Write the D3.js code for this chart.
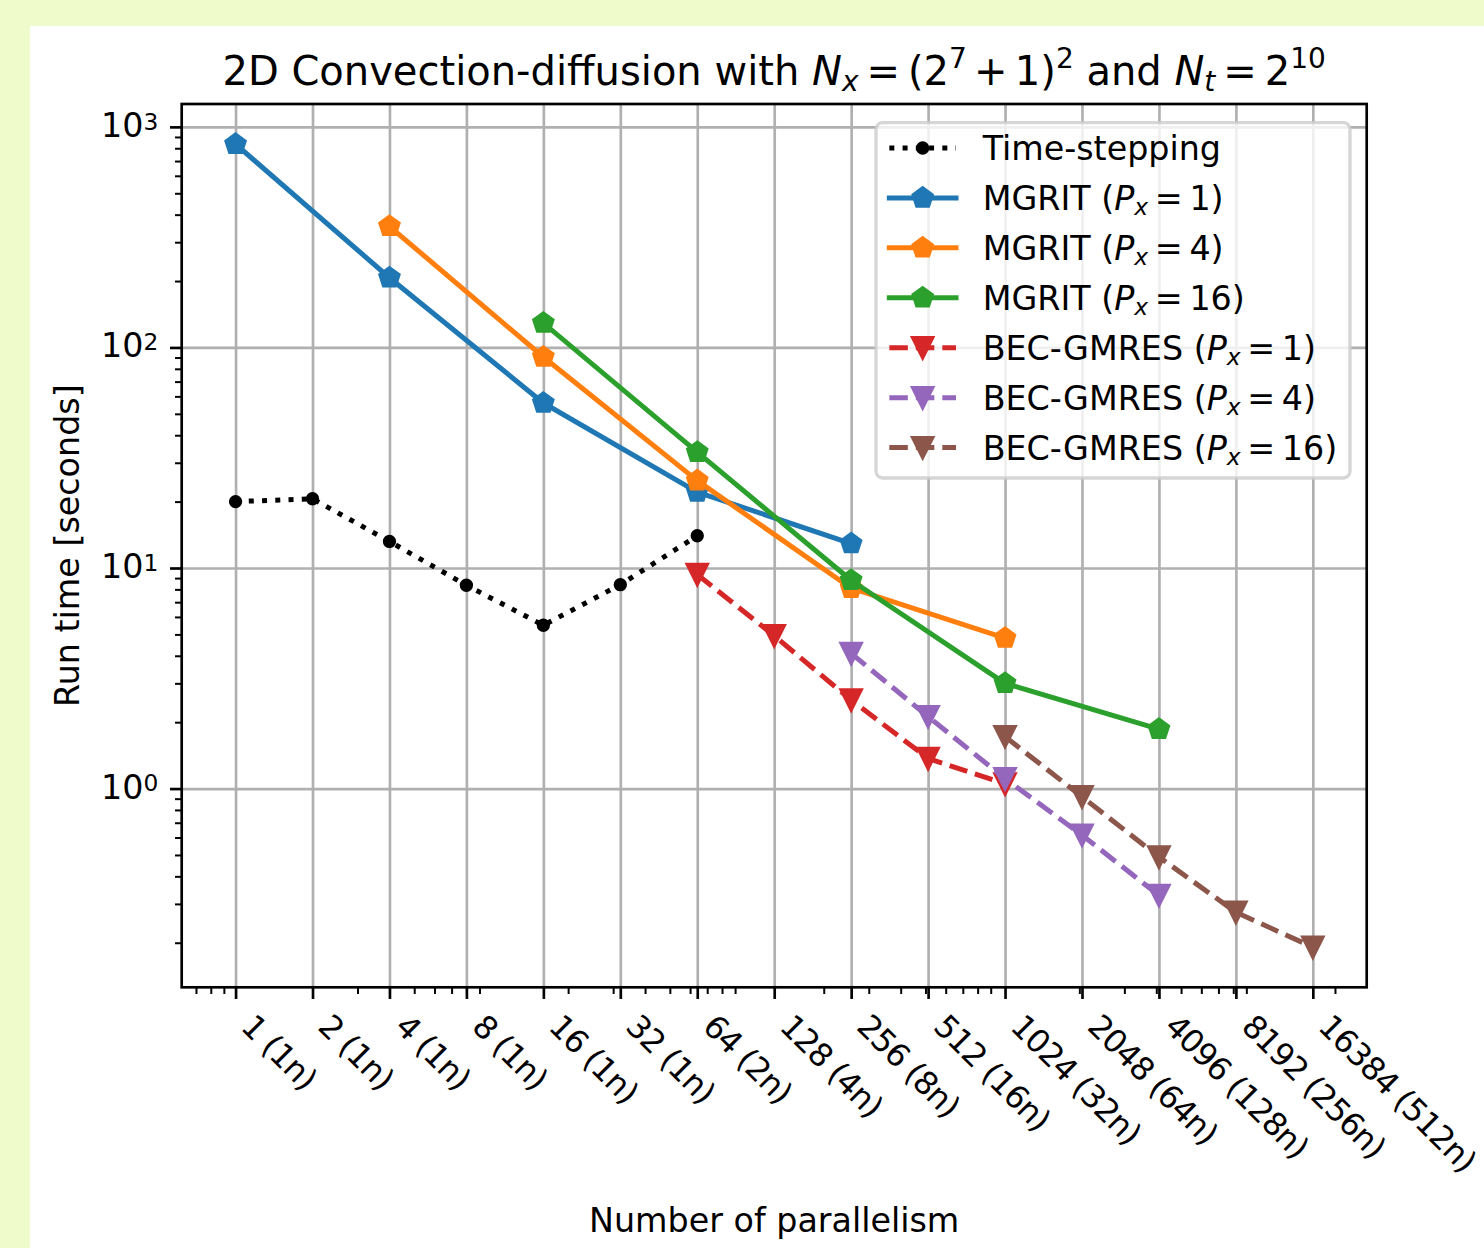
<!DOCTYPE html>
<html>
<head>
<meta charset="utf-8">
<script src="https://cdn.jsdelivr.net/npm/d3@7"></script>
<style>
  html, body { margin: 0; padding: 0; background: #f0fbcc; }
  svg { display: block; }
  svg text { font-family: "DejaVu Sans", sans-serif; white-space: pre; fill: #000; }
</style>
</head>
<body>
<svg id="chart" width="1484" height="1248"></svg>
<script>
// ---------------- data ----------------
const xTicks = [1, 2, 4, 8, 16, 32, 64, 128, 256, 512, 1024, 2048, 4096, 8192, 16384];
const xTickLabels = ["1 (1n)", "2 (1n)", "4 (1n)", "8 (1n)", "16 (1n)", "32 (1n)", "64 (2n)",
  "128 (4n)", "256 (8n)", "512 (16n)", "1024 (32n)", "2048 (64n)", "4096 (128n)",
  "8192 (256n)", "16384 (512n)"];
const yTicks = [1, 10, 100, 1000];
const yTickExponents = ["0", "1", "2", "3"];

const timeSteppingX = [1, 2, 4, 8, 16, 32, 64];
const timeSteppingY = [20.0, 20.6, 13.2, 8.35, 5.5, 8.4, 14.0];

const mgrit1X = [1, 4, 16, 64, 256];
const mgrit1Y = [835, 207, 56, 22.1, 12.9];

const mgrit4X = [4, 16, 64, 256, 1024];
const mgrit4Y = [354, 90.5, 24.9, 8.1, 4.81];

const mgrit16X = [16, 64, 256, 1024, 4096];
const mgrit16Y = [129, 33.5, 8.8, 3.0, 1.86];

const bec1X = [64, 128, 256, 512, 1024];
const bec1Y = [9.35, 4.93, 2.52, 1.37, 1.05];

const bec4X = [256, 512, 1024, 2048, 4096];
const bec4Y = [4.1, 2.12, 1.11, 0.615, 0.328];

const bec16X = [1024, 2048, 4096, 8192, 16384];
const bec16Y = [1.72, 0.918, 0.49, 0.275, 0.191];

const seriesNames = ["Time-stepping", "MGRIT", "MGRIT", "MGRIT", "BEC-GMRES", "BEC-GMRES", "BEC-GMRES"];
const seriesPx = [null, "1", "4", "16", "1", "4", "16"];

// ---------------- styles ----------------
const PT = 240 / 72;
const series = [
  { x: timeSteppingX, y: timeSteppingY, color: "#000000", dash: [1 * 1.5 * PT, 1.65 * 1.5 * PT], marker: "dot" },
  { x: mgrit1X, y: mgrit1Y, color: "#1f77b4", dash: null, marker: "pent" },
  { x: mgrit4X, y: mgrit4Y, color: "#ff7f0e", dash: null, marker: "pent" },
  { x: mgrit16X, y: mgrit16Y, color: "#2ca02c", dash: null, marker: "pent" },
  { x: bec1X, y: bec1Y, color: "#d62728", dash: [3.7 * 1.5 * PT, 1.6 * 1.5 * PT], marker: "tri" },
  { x: bec4X, y: bec4Y, color: "#9467bd", dash: [3.7 * 1.5 * PT, 1.6 * 1.5 * PT], marker: "tri" },
  { x: bec16X, y: bec16Y, color: "#8c564b", dash: [3.7 * 1.5 * PT, 1.6 * 1.5 * PT], marker: "tri" }
];

const W = 1484, H = 1248;
const M = { left: 181.7, right: 1366.7, top: 104, bottom: 987.3 };
const FS = 10 * PT;   // 33.3 px
const TFS = 12 * PT;  // 40 px

const svg = d3.select("#chart");
svg.append("rect").attr("x", 30).attr("y", 26).attr("width", W - 30).attr("height", H - 26).attr("fill", "#ffffff");

// ---------------- scales ----------------
const allX = series.flatMap(s => s.x);
const allY = series.flatMap(s => s.y);
const lx0 = Math.log2(d3.min(allX)), lx1 = Math.log2(d3.max(allX));
const mx = (lx1 - lx0) * 0.05;
const ly0 = Math.log10(d3.min(allY)), ly1 = Math.log10(d3.max(allY));
const my = (ly1 - ly0) * 0.05;

const x = d3.scaleLog().base(2).domain([2 ** (lx0 - mx), 2 ** (lx1 + mx)]).range([M.left, M.right]);
const y = d3.scaleLog().base(10).domain([10 ** (ly0 - my), 10 ** (ly1 + my)]).range([M.bottom, M.top]);

// minor ticks (base-10 subs 2..9)
const [xd0, xd1] = x.domain();
const xMinor = [];
for (let k = -2; k <= 5; k++) for (let d = 2; d <= 9; d++) {
  const v = d * 10 ** k;
  if (v >= xd0 && v <= xd1) xMinor.push(v);
}
const [yd0, yd1] = y.domain();
const yMinor = [];
for (let k = -2; k <= 4; k++) for (let d = 2; d <= 9; d++) {
  const v = d * 10 ** k;
  if (v >= yd0 && v <= yd1) yMinor.push(v);
}

// ---------------- grid ----------------
const gridX = svg.append("g").attr("transform", `translate(0,${M.bottom})`)
  .call(d3.axisBottom(x).tickValues(xTicks).tickSize(-(M.bottom - M.top)).tickFormat(""));
const gridY = svg.append("g").attr("transform", `translate(${M.left},0)`)
  .call(d3.axisLeft(y).tickValues(yTicks).tickSize(-(M.right - M.left)).tickFormat(""));
[gridX, gridY].forEach(g => {
  g.select(".domain").remove();
  g.selectAll(".tick line").attr("stroke", "#b0b0b0").attr("stroke-width", 0.8 * PT);
});

// ---------------- lines & markers ----------------
function pentagonPath(r) {
  const pts = d3.range(5).map(k => {
    const a = -Math.PI / 2 + k * 2 * Math.PI / 5;
    return [r * Math.cos(a), r * Math.sin(a)];
  });
  return "M" + pts.map(p => p.join(",")).join("L") + "Z";
}
function triDownPath(r) {
  return `M0,${r}L${r},${-r}L${-r},${-r}Z`;
}
function drawMarker(g, type, cx, cy, color) {
  if (type === "dot") {
    g.append("circle").attr("cx", cx).attr("cy", cy).attr("r", 5)
      .attr("fill", color).attr("stroke", color).attr("stroke-width", 1 * PT);
  } else {
    const d = type === "pent" ? pentagonPath(10) : triDownPath(10);
    g.append("path").attr("d", d).attr("transform", `translate(${cx},${cy})`)
      .attr("fill", color).attr("stroke", color).attr("stroke-width", 1 * PT)
      .attr("stroke-linejoin", "miter");
  }
}

const line = d3.line().x(d => x(d[0])).y(d => y(d[1]));
const plotG = svg.append("g");
series.forEach(s => {
  const pts = s.x.map((v, i) => [v, s.y[i]]);
  const p = plotG.append("path").attr("d", line(pts)).attr("fill", "none")
    .attr("stroke", s.color).attr("stroke-width", 1.5 * PT)
    .attr("stroke-linejoin", "round");
  if (s.dash) p.attr("stroke-dasharray", s.dash.join(",")).attr("stroke-linecap", "butt");
  else p.attr("stroke-linecap", "square");
  const mg = plotG.append("g");
  pts.forEach(d => drawMarker(mg, s.marker, x(d[0]), y(d[1]), s.color));
});

// ---------------- axes (spines & ticks) ----------------
svg.append("rect").attr("x", M.left).attr("y", M.top)
  .attr("width", M.right - M.left).attr("height", M.bottom - M.top)
  .attr("fill", "none").attr("stroke", "#000").attr("stroke-width", 0.8 * PT);

const axX = svg.append("g").attr("transform", `translate(0,${M.bottom})`)
  .call(d3.axisBottom(x).tickValues(xTicks).tickSize(3.5 * PT).tickFormat(""));
const axXm = svg.append("g").attr("transform", `translate(0,${M.bottom})`)
  .call(d3.axisBottom(x).tickValues(xMinor).tickSize(2 * PT).tickFormat(""));
const axY = svg.append("g").attr("transform", `translate(${M.left},0)`)
  .call(d3.axisLeft(y).tickValues(yTicks).tickSize(3.5 * PT).tickFormat(""));
const axYm = svg.append("g").attr("transform", `translate(${M.left},0)`)
  .call(d3.axisLeft(y).tickValues(yMinor).tickSize(2 * PT).tickFormat(""));
[axX, axY].forEach(g => { g.select(".domain").remove(); g.selectAll(".tick line").attr("stroke", "#000").attr("stroke-width", 0.8 * PT); });
[axXm, axYm].forEach(g => { g.select(".domain").remove(); g.selectAll(".tick line").attr("stroke", "#000").attr("stroke-width", 0.6 * PT); });

// x tick labels, rotated
const XFS = 32;
xTicks.forEach((v, i) => {
  const tx = x(v) + 4, ty = M.bottom + 7 * PT + 17.5;
  svg.append("text").attr("transform", `translate(${tx},${ty}) rotate(45)`)
    .attr("font-size", XFS).attr("letter-spacing", -1.0)
    .attr("text-anchor", "start").text(xTickLabels[i]);
});

// y tick labels 10^k
yTicks.forEach((v, i) => {
  const t = svg.append("text").attr("x", M.left - 7 * PT).attr("y", y(v) + 10)
    .attr("font-size", FS).attr("text-anchor", "end");
  t.append("tspan").text("10");
  t.append("tspan").attr("font-size", FS * 0.7).attr("dy", -7.3).text(yTickExponents[i]);
});

// ---------------- rich text helper ----------------
function rich(t, parts, fs) {
  let shift = 0;
  parts.forEach(p => {
    const ts = t.append("tspan").text(p.t);
    const target = p.sub ? fs * p.sub : p.sup ? -fs * p.sup : 0;
    const dy = target - shift; shift = target;
    if (dy) ts.attr("dy", dy);
    if (p.dx) ts.attr("dx", p.dx * fs);
    if (p.it) ts.attr("font-style", "italic");
    if (p.sub || p.sup) ts.attr("font-size", fs * 0.7);
  });
}

// title
const title = svg.append("text").attr("x", (M.left + M.right) / 2).attr("y", 85)
  .attr("font-size", TFS).attr("text-anchor", "middle");
rich(title, [
  { t: "2D Convection-diffusion with " },
  { t: "N", it: true },
  { t: "x", it: true, sub: 0.16 },
  { t: "=", dx: 0.2 },
  { t: "(2", dx: 0.2 },
  { t: "7", sup: 0.42 },
  { t: "+", dx: 0.18 },
  { t: "1)", dx: 0.18 },
  { t: "2", sup: 0.42 },
  { t: " and " },
  { t: "N", it: true },
  { t: "t", it: true, sub: 0.16 },
  { t: "=", dx: 0.2 },
  { t: "2", dx: 0.2 },
  { t: "10", sup: 0.42 }
], TFS);

// axis labels
svg.append("text").attr("x", (M.left + M.right) / 2).attr("y", 1231.7)
  .attr("font-size", FS).attr("text-anchor", "middle").text("Number of parallelism");
svg.append("text").attr("transform", `translate(79,${(M.top + M.bottom) / 2}) rotate(-90)`)
  .attr("font-size", FS).attr("text-anchor", "middle").text("Run time [seconds]");

// ---------------- legend ----------------
const lg = svg.append("g");
const LX = 876, LY = 122.7, LW = 474, LH = 355.3;
lg.append("rect").attr("x", LX).attr("y", LY).attr("width", LW).attr("height", LH)
  .attr("rx", 0.2 * FS).attr("ry", 0.2 * FS)
  .attr("fill", "#ffffff").attr("fill-opacity", 0.8)
  .attr("stroke", "#cccccc").attr("stroke-opacity", 0.8).attr("stroke-width", 1 * PT);

series.forEach((s, i) => {
  const cy = 148 + i * 49.93;
  const hx0 = LX + 0.4 * FS, hx1 = hx0 + 2 * FS;
  const l = lg.append("line").attr("x1", hx0).attr("x2", hx1).attr("y1", cy).attr("y2", cy)
    .attr("stroke", s.color).attr("stroke-width", 1.5 * PT);
  if (s.dash) l.attr("stroke-dasharray", s.dash.join(",")).attr("stroke-linecap", "butt");
  else l.attr("stroke-linecap", "square");
  drawMarker(lg, s.marker, (hx0 + hx1) / 2, cy, s.color);
  const t = lg.append("text").attr("x", hx1 + 0.8 * FS).attr("y", cy + 12.2).attr("font-size", FS);
  if (seriesPx[i] === null) {
    t.text(seriesNames[i]);
  } else {
    rich(t, [
      { t: seriesNames[i] + " (" },
      { t: "P", it: true },
      { t: "x", it: true, sub: 0.16 },
      { t: "=", dx: 0.2 },
      { t: seriesPx[i], dx: 0.2 },
      { t: ")" }
    ], FS);
  }
});
</script>
</body>
</html>
